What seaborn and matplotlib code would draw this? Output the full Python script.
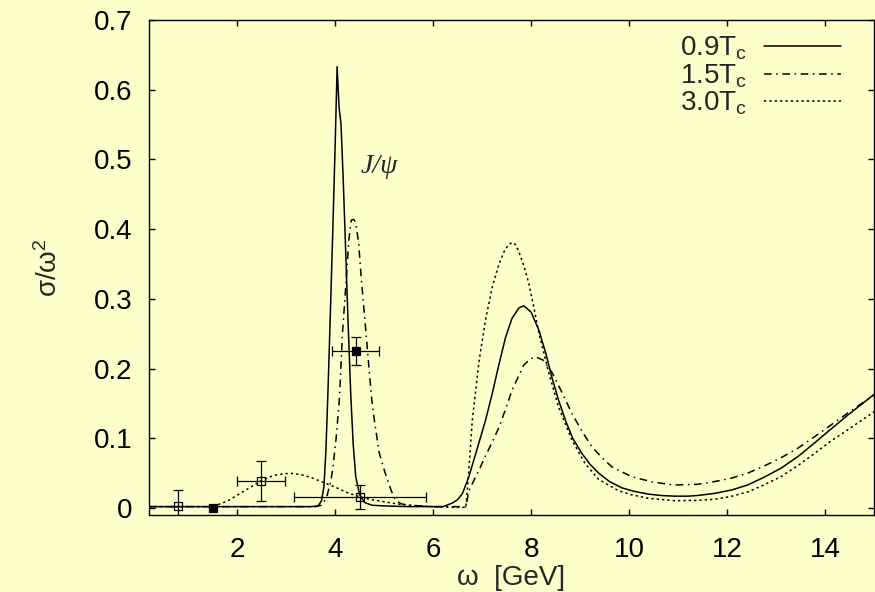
import matplotlib
matplotlib.use("Agg")
import matplotlib.pyplot as plt
import seaborn as sns
import numpy as np

# spectral function curves
solid_x = [0.2, 1.0, 2.0, 3.0, 3.5, 3.65, 3.72, 3.77, 3.81, 3.85, 3.90, 3.96, 4.00, 4.04, 4.08,
           4.12, 4.16, 4.20, 4.26, 4.32, 4.37, 4.42, 4.50, 4.60, 4.75, 5.0, 5.5, 6.0, 6.2, 6.39,
           6.5, 6.6, 6.73, 6.87, 7.07, 7.21, 7.34, 7.48, 7.61, 7.75, 7.85, 8.0, 8.16, 8.3, 8.43,
           8.56, 8.70, 8.85, 9.03, 9.2, 9.38, 9.6, 9.85, 10.1, 10.39, 10.65, 10.93, 11.2, 11.4, 11.75,
           12.1, 12.42, 12.75, 13.1, 13.45, 13.78, 14.1, 14.46, 14.75, 15.0]
solid_y = [0.002, 0.002, 0.002, 0.002, 0.002, 0.003, 0.010, 0.03, 0.08, 0.16, 0.274, 0.418, 0.52, 0.633, 0.575,
           0.55, 0.48, 0.40, 0.274, 0.16, 0.09, 0.045, 0.019, 0.008, 0.004, 0.003, 0.002, 0.002, 0.002, 0.007,
           0.012, 0.021, 0.045, 0.078, 0.126, 0.165, 0.205, 0.245, 0.272, 0.287, 0.290, 0.281, 0.255, 0.222, 0.186,
           0.155, 0.126, 0.100, 0.079, 0.063, 0.050, 0.038, 0.029, 0.024, 0.020, 0.018, 0.017, 0.017, 0.018, 0.021,
           0.026, 0.033, 0.044, 0.057, 0.074, 0.093, 0.112, 0.133, 0.149, 0.163]

dashdot_x = [0.2, 1.0, 2.0, 3.0, 3.6, 3.72, 3.82, 3.90, 3.95, 4.02, 4.09, 4.15, 4.23, 4.28, 4.33,
             4.38, 4.42, 4.48, 4.53, 4.63, 4.74, 4.80, 4.90, 5.00, 5.07, 5.15, 5.24, 5.35, 5.51, 6.0,
             6.5, 6.67, 6.73, 6.94, 7.07, 7.21, 7.34, 7.48, 7.61, 7.75, 7.85, 7.97, 8.09, 8.25, 8.43,
             8.63, 8.83, 9.04, 9.24, 9.45, 9.65, 10.05, 10.5, 10.93, 11.4, 11.75, 12.1, 12.42, 12.75, 13.1,
             13.45, 13.78, 14.1, 14.46, 14.75, 15.0]
dashdot_y = [0.002, 0.002, 0.002, 0.002, 0.002, 0.004, 0.014, 0.035, 0.055, 0.10, 0.16, 0.251, 0.332, 0.385, 0.413,
             0.414, 0.409, 0.38, 0.332, 0.251, 0.16, 0.126, 0.079, 0.055, 0.040, 0.024, 0.011, 0.006, 0.004, 0.002,
             0.002, 0.002, 0.025, 0.055, 0.075, 0.095, 0.115, 0.142, 0.169, 0.190, 0.205, 0.213, 0.217, 0.212, 0.194,
             0.166, 0.136, 0.110, 0.088, 0.072, 0.059, 0.045, 0.037, 0.033, 0.034, 0.038, 0.043, 0.050, 0.060, 0.072,
             0.086, 0.102, 0.118, 0.136, 0.150, 0.162]

dotted_x = [0.2, 1.0, 1.5, 1.8, 2.06, 2.3, 2.49, 2.75, 3.07, 3.3, 3.5, 3.75, 4.0, 4.25, 4.5,
            4.75, 5.0, 5.25, 5.5, 6.0, 6.4, 6.67, 6.73, 6.80, 6.94, 7.07, 7.21, 7.34, 7.45, 7.53,
            7.61, 7.68, 7.75, 7.85, 7.95, 8.05, 8.16, 8.36, 8.56, 8.83, 9.1, 9.38, 9.78, 10.05, 10.39,
            10.93, 11.4, 11.75, 12.1, 12.42, 12.75, 13.1, 13.45, 13.78, 14.1, 14.46, 14.75, 15.0]
dotted_y = [0.002, 0.002, 0.002, 0.010, 0.021, 0.031, 0.039, 0.047, 0.050, 0.048, 0.044, 0.037, 0.030, 0.022, 0.016,
            0.012, 0.009, 0.006, 0.004, 0.002, 0.001, 0.001, 0.055, 0.126, 0.212, 0.270, 0.318, 0.349, 0.368, 0.377,
            0.381, 0.378, 0.368, 0.348, 0.323, 0.290, 0.251, 0.194, 0.145, 0.098, 0.064, 0.041, 0.025, 0.019, 0.014,
            0.0105, 0.011, 0.0125, 0.017, 0.023, 0.033, 0.045, 0.061, 0.078, 0.095, 0.112, 0.126, 0.138]

# lattice data points with error bars
pts_x = np.array([0.79, 1.50, 2.49, 4.50, 4.42])
pts_y = np.array([0.003, 0.0, 0.039, 0.0155, 0.225])
pts_xerr = np.array([0.0, 0.0, 0.49, 1.35, 0.48])
pts_yerr = np.array([0.023, 0.0, 0.029, 0.0175, 0.020])
pts_filled = np.array([False, True, False, False, True])

labels = ["0.9T$_\\mathregular{c}$", "1.5T$_\\mathregular{c}$", "3.0T$_\\mathregular{c}$"]
xticks = [2, 4, 6, 8, 10, 12, 14]
yticks = [0, 0.1, 0.2, 0.3, 0.4, 0.5, 0.6, 0.7]

bg = "#ffffcc"
sns.set_style("ticks")
plt.rcParams["font.family"] = ["Liberation Sans", "DejaVu Sans"]
plt.rcParams["mathtext.fontset"] = "custom"
plt.rcParams["mathtext.rm"] = "Liberation Sans"
plt.rcParams["mathtext.it"] = "Liberation Sans:italic"

fig = plt.figure(figsize=(8.75, 5.92), dpi=100, facecolor=bg)
ax = fig.add_axes([149 / 875, 77 / 592, 725 / 875, 495 / 592])
ax.set_facecolor(bg)

lw = 1.1
sns.lineplot(x=solid_x, y=solid_y, ax=ax, color="black", lw=lw, label=labels[0], estimator=None)
sns.lineplot(x=dashdot_x, y=dashdot_y, ax=ax, color="black", lw=lw, label=labels[1], estimator=None,
             linestyle=(0, (5, 3, 1, 3)))
sns.lineplot(x=dotted_x, y=dotted_y, ax=ax, color="black", lw=lw, label=labels[2], estimator=None,
             linestyle=(0, (1.5, 2)))

# error bars
hasy = pts_yerr > 0
hasx = pts_xerr > 0
ax.errorbar(pts_x[hasy], pts_y[hasy], yerr=pts_yerr[hasy], fmt="none", ecolor="black",
            elinewidth=0.9, capsize=3.5, capthick=0.9)
ax.errorbar(pts_x[hasx], pts_y[hasx], xerr=pts_xerr[hasx], fmt="none", ecolor="black",
            elinewidth=0.9, capsize=3.5, capthick=0.9)
sns.scatterplot(x=pts_x[~pts_filled], y=pts_y[~pts_filled], ax=ax, marker="s", s=32,
                facecolor="none", edgecolor="black", linewidth=0.9, zorder=5)
sns.scatterplot(x=pts_x[pts_filled], y=pts_y[pts_filled], ax=ax, marker="s", s=32,
                color="black", edgecolor="black", linewidth=0.9, zorder=5)

ax.text(4.9, 0.49, "J/ψ", fontsize=20, family="Liberation Serif", style="italic",
        ha="center", va="center")

ax.set_xlim(0.2, 15)
ax.set_ylim(-0.01, 0.7)
ax.set_xticks(xticks)
ax.set_yticks(yticks)
ax.set_yticklabels(["0"] + [f"{v:.1f}" for v in yticks[1:]])
ax.tick_params(direction="in", length=4.5, width=1, top=True, right=True,
               labelsize=20, colors="black")
ax.tick_params(axis="y", pad=12)
ax.tick_params(axis="x", pad=16)
for s in ax.spines.values():
    s.set_linewidth(1.0)
    s.set_color("black")

ax.set_xlabel("ω  [GeV]", fontsize=20, labelpad=1)
ax.set_ylabel("σ/ω$^2$", fontsize=20, labelpad=22)

ax.legend(loc="upper right", bbox_to_anchor=(0.955, 0.97), frameon=False, fontsize=20,
          markerfirst=False, handlelength=2.8, handletextpad=0.6, labelspacing=0.0,
          borderpad=0, borderaxespad=0)

fig.savefig("out.png", dpi=100, facecolor=bg)
